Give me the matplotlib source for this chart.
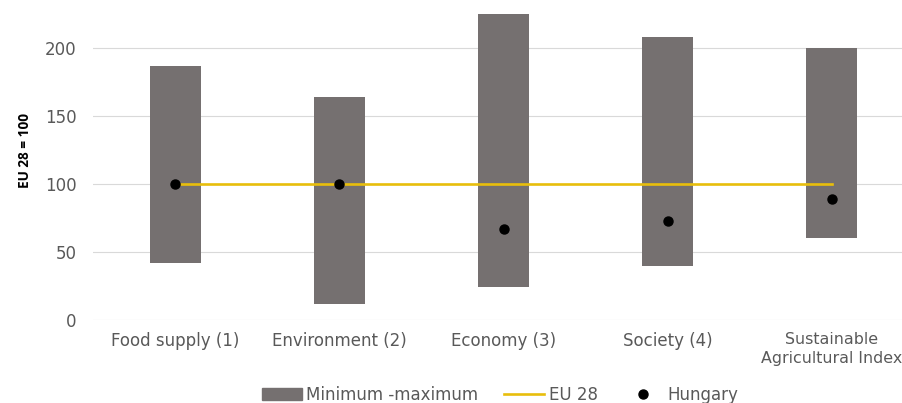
import matplotlib.pyplot as plt
from matplotlib.patches import Patch
from matplotlib.lines import Line2D

# values (EU 28 = 100)
categories = ["Food supply (1)", "Environment (2)", "Economy (3)", "Society (4)",
              "Sustainable\nAgricultural Index"]
minimum = [42, 12, 24, 40, 60]
maximum = [187, 164, 225, 208, 200]
eu28 = [100, 100, 100, 100, 100]
hungary = [100, 100, 67, 73, 89]

plt.rcParams["font.family"] = ["DejaVu Sans"]

BAR = "#757070"
GOLD = "#E8BE0C"
TXT = "#595959"

fig = plt.figure(figsize=(9.02, 4.03), dpi=100)
ax = fig.add_axes([93 / 902, 83 / 403, 821 / 902, 340 / 403])

x = list(range(len(categories)))
heights = [hi - lo for lo, hi in zip(minimum, maximum)]
ax.bar(x, heights, bottom=minimum, width=0.31, color=BAR, zorder=2)
ax.plot(x, eu28, color=GOLD, linewidth=1.9, zorder=3)
ax.plot(x, hungary, "o", color="black", markersize=6.5, zorder=4)

ax.set_xlim(-0.5, len(categories) - 0.5)
ax.set_ylim(0, 250)
ax.set_yticks([0, 50, 100, 150, 200])
ax.set_xticks(x)
ax.set_xticklabels(categories, linespacing=1.0)
ax.tick_params(axis="both", length=0, labelsize=12, colors=TXT)
ax.tick_params(axis="y", pad=12)
ax.tick_params(axis="x", pad=9)
# last label sits at the right edge, shrink it a touch so it stays inside
last = ax.get_xticklabels()[-1]
last.set_fontsize(11.4)
last.set_linespacing(1.25)
ax.grid(axis="y", color="#d9d9d9", linewidth=0.8, zorder=0)
for s in ax.spines.values():
    s.set_visible(False)

fig.text(25 / 902, (403 - 151) / 403, "EU 28 = 100", rotation=90, family="Open Sans",
         fontsize=9.8, fontweight="bold", color="black", ha="center", va="center")

handles = [
    Patch(color=BAR),
    Line2D([], [], color=GOLD, linewidth=1.9),
    Line2D([], [], marker="o", color="black", linestyle="none", markersize=6.5),
]
fig.legend(handles, ["Minimum -maximum", "EU 28", "Hungary"], loc="center",
           bbox_to_anchor=(500 / 902, 8 / 403), ncol=3, frameon=False,
           fontsize=12, labelcolor=TXT, handlelength=2.4, handletextpad=0.3,
           columnspacing=1.5)

fig.savefig("out.png", dpi=100)
